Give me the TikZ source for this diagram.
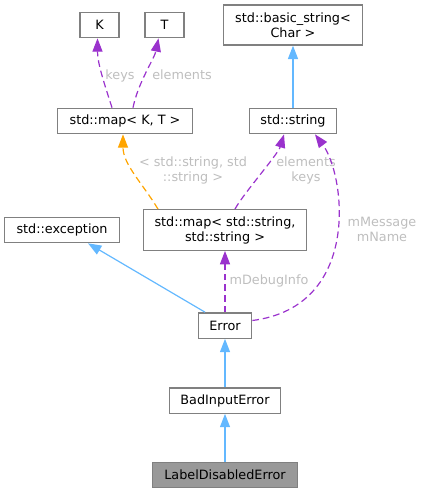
\documentclass[tikz,border=0pt]{standalone}
\usepackage{fontspec}
\setmainfont{DejaVu Sans}
\usetikzlibrary{arrows.meta,calc}
\definecolor{edgeblue}{HTML}{63B8FF}
\definecolor{edgepurple}{HTML}{9A32CD}
\definecolor{edgeorange}{HTML}{FFA500}
\definecolor{boxgray}{HTML}{808080}
\definecolor{labelgray}{HTML}{BEBEBE}
\definecolor{hlgray}{HTML}{999999}

\begin{document}
\begin{tikzpicture}[x=0.75pt, y=-0.75pt, font=\fontsize{9.6}{11.3}\selectfont]
    \tikzset{ cls/.style={draw=boxgray, line width=1pt, fill=white, inner sep=0pt, minimum height=19pt, align=center},
              inh/.style={color=edgeblue, line width=0.9pt, -{Triangle[length=10pt,width=7.5pt]}},
              use/.style={color=edgepurple, line width=0.9pt, dash pattern=on 5pt off 3pt, -{Triangle[length=10pt,width=7.5pt]}},
              tpl/.style={color=edgeorange, line width=0.9pt, dash pattern=on 5pt off 3pt, -{Triangle[length=10pt,width=7.5pt]}},
              lbl/.style={text=labelgray, align=center, inner sep=0pt} }
    \useasboundingbox (0,0) rectangle (424,493);

    \node[cls, minimum width=29.25pt] (K) at (99.5,25) {K};
    \node[cls, minimum width=29.25pt] (T) at (164.5,25) {T};
    \node[cls, minimum width=104.25pt, minimum height=30pt] (bstr) at (293,25) {std::basic\_string<\\Char >};
    \node[cls, minimum width=101pt] (mapKT) at (125,121) {std::map< K, T >};
    \node[cls, minimum width=65.6pt] (str) at (293,121) {std::string};
    \node[cls, minimum width=86pt] (exc) at (62,230) {std::exception};
    \node[cls, minimum width=122pt, minimum height=30.4pt] (mapSS) at (225,230) {std::map< std::string,\\std::string >};
    \node[cls, minimum width=40pt] (err) at (225,325.5) {Error};
    \node[cls, minimum width=83.6pt] (bad) at (225,400.5) {BadInputError};
    \node[cls, minimum width=109pt, fill=hlgray] (lde) at (225,475) {LabelDisabledError};

    % template arguments
    \draw[use] ($(mapKT.north)+(-13,0)$) .. controls +(-8,-25) and +(0,25) .. ($(K.south)+(-2,0)$);
    \draw[use] ($(mapKT.north)+(8,0)$) .. controls +(5,-25) and +(-4,20) .. ($(T.south)+(-6,0)$);
    \node[lbl] (lkeys) at (120,76) {keys};
    \node[lbl] (lelem) at (182,75) {elements};

    % instantiation
    \draw[tpl] ($(mapSS.north)+(-67,0)$) .. controls +(-15,-25) and +(0,30) .. ($(mapKT.south)+(-2,0)$);
    \node[lbl] (ltpl) at (193,170) {< std::string, std\\::string >};

    \draw[use] ($(mapSS.north)+(10,0)$) .. controls +(8,-15) and +(-6,20) .. ($(str.south)+(-9,0)$);
    \node[lbl] (lek) at (306,170) {elements\\keys};

    % members of Error
    \draw[use] ($(err.east)+(0,-5)$) .. controls +(110,-14) and +(30,40) .. ($(str.south)+(22,0)$);
    \node[lbl] (lmsg) at (382,229.5) {mMessage\\mName};
    \draw[use] (err.north) -- (mapSS.south);
    \node[lbl] (ldbg) at (269,281) {mDebugInfo};

    % inheritance
    \draw[inh] ($(err.north)+(-20,0)$) -- ($(exc.south)+(26,0)$);
    \draw[inh] (bad.north) -- (err.south);
    \draw[inh] (lde.north) -- (bad.south);
    \draw[inh] (str.north) -- (bstr.south);
\end{tikzpicture}
\end{document}
